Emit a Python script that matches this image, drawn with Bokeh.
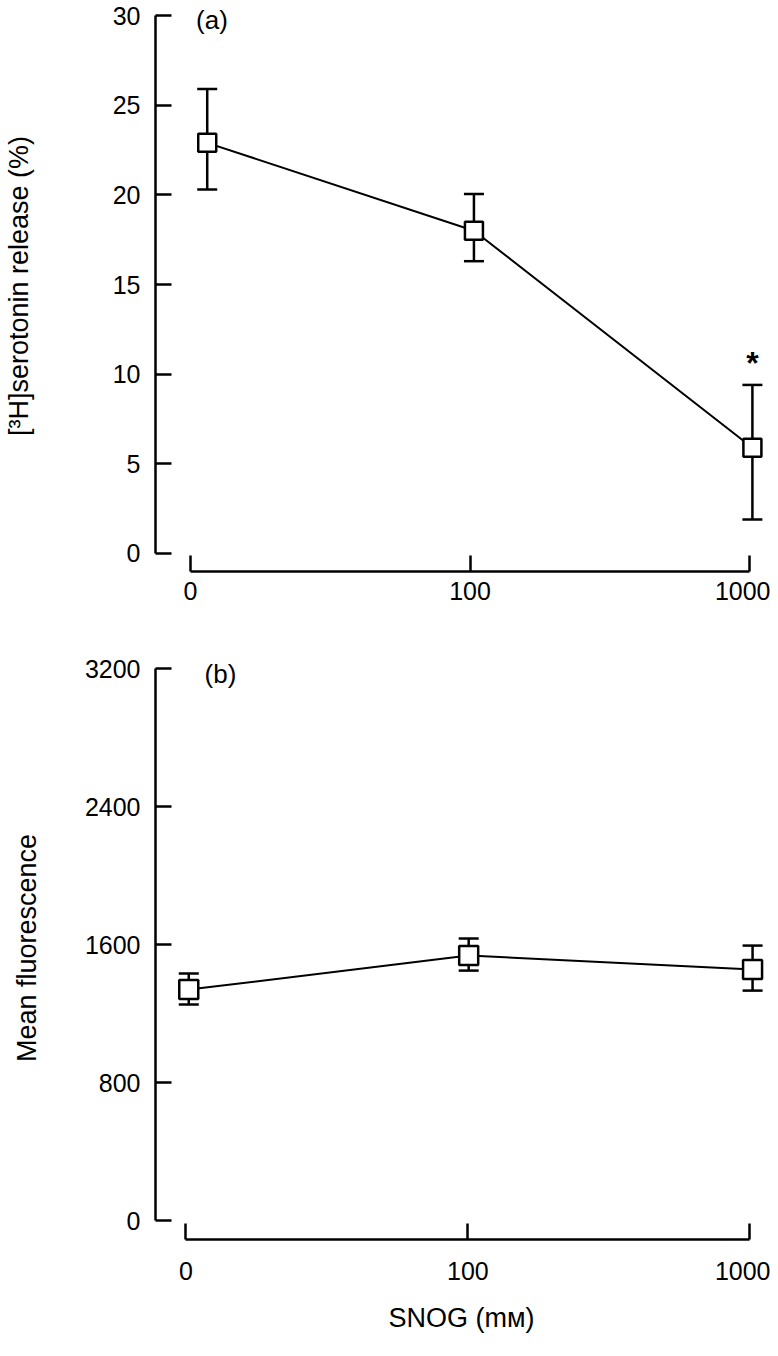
from bokeh.plotting import figure
from bokeh.layouts import column
from bokeh.models import ColumnDataSource, Whisker, TeeHead, Label, FixedTicker
from bokeh.core.properties import value
from bokeh.embed import file_html
from bokeh.resources import INLINE

FONT = "Liberation Sans"

# shared x axis (log-like positions of SNOG concentration)
tick_pos = [1, 2, 3]
tick_labels = ["0", "100", "1000"]

# panel (a): [3H]serotonin release (%)
a_x = [1.06, 2.014, 3.01]
a_mean = [22.9, 18.0, 5.9]
a_upper = [25.9, 20.05, 9.4]
a_lower = [20.3, 16.3, 1.9]
a_yticks = [0, 5, 10, 15, 20, 25, 30]
a_star_x = [3.01]
a_star_y = [10.6]

# panel (b): mean fluorescence
b_x = [1.01, 2.003, 3.01]
b_mean = [1339, 1536, 1455]
b_upper = [1432, 1635, 1594]
b_lower = [1252, 1449, 1333]
b_yticks = [0, 800, 1600, 2400, 3200]


def style_axes(p, yticks, ybounds, ylabel, xlabel, x_standoff, ylab_standoff, xlab_standoff):
    p.outline_line_color = None
    p.xgrid.grid_line_color = None
    p.ygrid.grid_line_color = None
    p.background_fill_color = "white"
    p.border_fill_color = "white"

    ya = p.yaxis[0]
    ya.ticker = FixedTicker(ticks=yticks, minor_ticks=[])
    ya.bounds = ybounds
    ya.major_tick_in = 16
    ya.major_tick_out = 0
    ya.minor_tick_in = 0
    ya.minor_tick_out = 0
    ya.axis_line_width = 2.5
    ya.major_tick_line_width = 2.5
    ya.axis_line_color = "black"
    ya.major_tick_line_color = "black"
    ya.major_label_standoff = 15
    ya.major_label_text_font = FONT
    ya.major_label_text_font_size = "25px"
    ya.major_label_text_color = "black"
    ya.axis_label = ylabel
    ya.axis_label_text_font = FONT
    ya.axis_label_text_font_size = "27px"
    ya.axis_label_text_font_style = "normal"
    ya.axis_label_text_color = "black"
    ya.axis_label_standoff = ylab_standoff

    xa = p.xaxis[0]
    xa.ticker = FixedTicker(ticks=tick_pos, minor_ticks=[])
    xa.major_label_overrides = {t: l for t, l in zip(tick_pos, tick_labels)}
    xa.bounds = (tick_pos[0], tick_pos[-1])
    xa.major_tick_in = 16
    xa.major_tick_out = 0
    xa.minor_tick_in = 0
    xa.minor_tick_out = 0
    xa.axis_line_width = 2.5
    xa.major_tick_line_width = 2.5
    xa.axis_line_color = "black"
    xa.major_tick_line_color = "black"
    xa.major_label_standoff = x_standoff
    xa.major_label_text_font = FONT
    xa.major_label_text_font_size = "25px"
    xa.major_label_text_color = "black"
    if xlabel:
        xa.axis_label = xlabel
        xa.axis_label_text_font = FONT
        xa.axis_label_text_font_size = "27px"
        xa.axis_label_text_font_style = "normal"
        xa.axis_label_text_color = "black"
        xa.axis_label_standoff = xlab_standoff


def add_series(p, xs, mean, upper, lower, msize):
    src = ColumnDataSource(dict(x=xs, y=mean, upper=upper, lower=lower))
    w = Whisker(base="x", upper="upper", lower="lower", source=src,
                line_color="black", line_width=2.5, level="underlay",
                upper_head=TeeHead(size=20, line_width=2.5, line_color="black"),
                lower_head=TeeHead(size=20, line_width=2.5, line_color="black"))
    p.add_layout(w)
    p.line("x", "y", source=src, line_color="black", line_width=2)
    p.scatter("x", "y", source=src, marker="square", size=msize,
              fill_color="white", line_color="black", line_width=2.5)


# ---------- panel (a) ----------
pa = figure(width=770, height=650, x_range=(0.875, 3.064), y_range=(-1.004, 30.837),
            output_backend="svg", toolbar_location=None,
            min_border_left=154, min_border_right=3, min_border_top=0, min_border_bottom=79)
style_axes(pa, a_yticks, (0, 30), "[³H]serotonin release (%)", None, 10, 76, 0)
add_series(pa, a_x, a_mean, a_upper, a_lower, 18)
pa.text(x=a_star_x, y=a_star_y, text=["*"], text_font=value(FONT), text_font_size="32px",
        text_font_style="bold", text_align="center", text_baseline="alphabetic", text_color="black")
pa.add_layout(Label(x=1.02, y=29.75, text="(a)", text_font=FONT, text_font_size="26px",
                    text_baseline="middle", text_align="left", text_color="black"))

# ---------- panel (b) ----------
pb = figure(width=770, height=690, x_range=(0.892, 3.063), y_range=(-110, 3270),
            output_backend="svg", toolbar_location=None,
            min_border_left=145, min_border_right=3, min_border_top=6, min_border_bottom=101)
style_axes(pb, b_yticks, (0, 3200), "Mean fluorescence", "SNOG (mᴍ)", 22, 40, 20)
add_series(pb, b_x, b_mean, b_upper, b_lower, 19)
pb.add_layout(Label(x=1.066, y=3171, text="(b)", text_font=FONT, text_font_size="26px",
                    text_baseline="middle", text_align="left", text_color="black"))

layout = column(pa, pb, spacing=0)
open("out.html", "w").write(file_html(layout, INLINE))
